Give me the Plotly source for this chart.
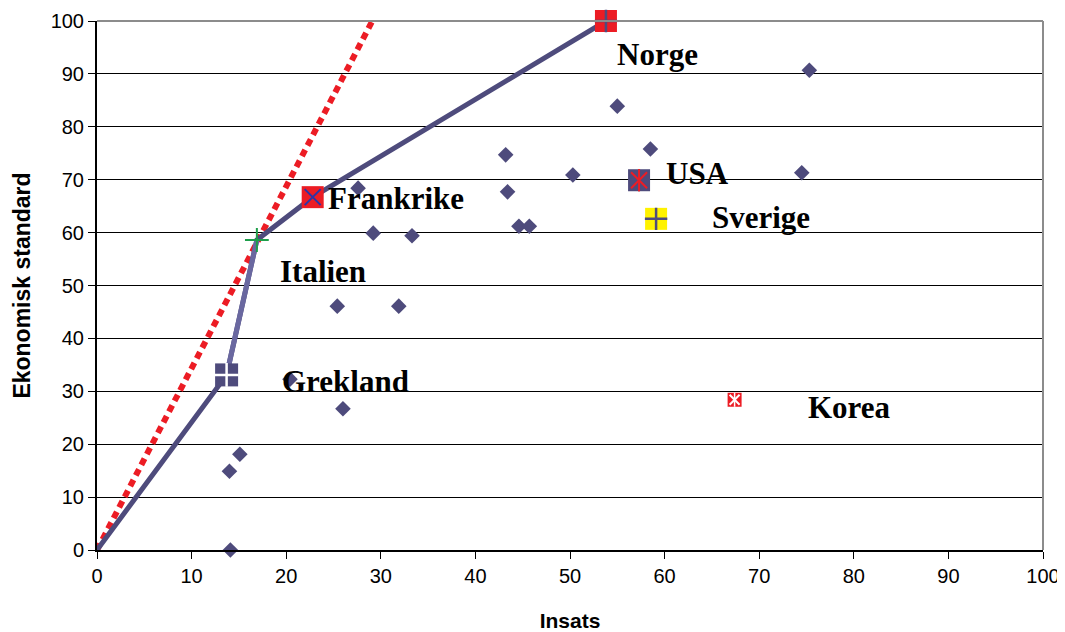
import plotly.graph_objects as go

# ---- data ----
insats = [14.1, 14.0, 15.1, 20.4, 26.0, 25.4, 31.9, 29.2, 33.3, 27.6,
          43.2, 43.4, 44.6, 45.7, 50.3, 55.0, 58.5, 74.5, 75.3]
standard = [0.0, 14.9, 18.1, 32.3, 26.7, 46.1, 46.1, 59.9, 59.4, 68.4,
            74.7, 67.7, 61.2, 61.2, 70.9, 83.9, 75.8, 71.3, 90.7]

countries = ["Norge", "Frankrike", "USA", "Sverige", "Italien", "Grekland", "Korea"]
country_x = [53.8, 22.8, 57.3, 59.1, 16.9, 13.7, 67.4]
country_y = [100.0, 66.7, 69.9, 62.6, 58.6, 33.1, 28.4]

frontier_x = [0, 13.7, 16.9, 22.8, 53.8]
frontier_y = [0, 33.1, 58.6, 66.7, 100.0]

ray_x = [0, 29.1]
ray_y = [0, 100]

x_ticks = list(range(0, 101, 10))
y_ticks = list(range(0, 101, 10))

# label offsets (in axis units) relative to each country's marker
label_dx = {"Norge": 1.0, "Frankrike": 1.4, "USA": 2.6, "Sverige": 5.7,
            "Italien": 2.2, "Grekland": 5.6, "Korea": 7.5}
label_dy = {"Norge": -6.4, "Frankrike": -0.2, "USA": 1.2, "Sverige": 0.2,
            "Italien": -5.9, "Grekland": -1.2, "Korea": -1.4}

# marker styles per country: list of (symbol, size, fill, line colour, line width)
DARK = "#4E4B7C"
RED = "#EC1C24"
styles = {
    "Norge":     [("square", 22, RED, RED, 0), ("cross-thin", 16, DARK, DARK, 2.5)],
    "Frankrike": [("square", 22, RED, RED, 0), ("x-thin", 16, "#2B35A8", "#2B35A8", 2)],
    "USA":       [("square", 22, DARK, DARK, 0), ("x-thin", 16, RED, RED, 2), ("line-ns", 16, RED, RED, 2)],
    "Sverige":   [("square", 22, "#FFF200", "#FFF200", 0), ("cross-thin", 16, DARK, DARK, 2.5)],
    "Italien":   [("cross-thin", 17, "#1E9E4A", "#1E9E4A", 2)],
    "Grekland":  [("square", 23, DARK, DARK, 0), ("cross-thin", 17, "white", "white", 2.5)],
    "Korea":     [("square", 14, RED, RED, 0), ("x-thin", 10, "white", "white", 2), ("line-ns", 10, "white", "white", 1.5)],
}

fig = go.Figure()

# red dotted ray
fig.add_trace(go.Scatter(x=ray_x, y=ray_y, mode="lines",
                         line=dict(color=RED, width=6, dash="7px,5px"),
                         cliponaxis=False, hoverinfo="skip"))
# frontier line
fig.add_trace(go.Scatter(x=frontier_x, y=frontier_y, mode="lines",
                         line=dict(color=DARK, width=5),
                         cliponaxis=False, hoverinfo="skip"))
# lighter segment Grekland -> Italien
fig.add_trace(go.Scatter(x=frontier_x[1:3], y=frontier_y[1:3], mode="lines",
                         line=dict(color="#6A68A0", width=5),
                         cliponaxis=False, hoverinfo="skip"))
# diamonds
fig.add_trace(go.Scatter(x=insats, y=standard, mode="markers",
                         marker=dict(symbol="diamond", size=12, color=DARK,
                                     line=dict(width=0)),
                         cliponaxis=False))

# country markers
for name, cx, cy in zip(countries, country_x, country_y):
    for sym, sz, fill, lc, lw in styles[name]:
        fig.add_trace(go.Scatter(x=[cx], y=[cy], mode="markers",
                                 marker=dict(symbol=sym, size=sz, color=fill,
                                             line=dict(color=lc, width=lw)),
                                 cliponaxis=False, hoverinfo="skip"))

# country labels
for name, cx, cy in zip(countries, country_x, country_y):
    fig.add_annotation(x=cx + label_dx[name], y=cy + label_dy[name], text=name,
                       showarrow=False, xanchor="left", yanchor="middle",
                       font=dict(family="Liberation Serif, Times New Roman, serif",
                                 size=31, color="black", weight="bold"))

# top and right border (gray)
fig.add_shape(type="line", xref="x domain", yref="y domain", x0=0, x1=1, y0=1, y1=1,
              line=dict(color="#8C8C8C", width=2))
fig.add_shape(type="line", xref="x domain", yref="y domain", x0=1, x1=1, y0=0, y1=1,
              line=dict(color="#8C8C8C", width=2))

tickfont = dict(family="Liberation Sans, Arial, sans-serif", size=20, color="black")
titlefont = dict(family="Liberation Sans, Arial, sans-serif", size=21, color="black", weight="bold")

fig.update_layout(
    width=1057, height=624,
    margin=dict(l=89, r=22, t=13, b=82),
    paper_bgcolor="white", plot_bgcolor="white",
    showlegend=False,
    xaxis=dict(range=[0, 100], tickvals=x_ticks, showgrid=False, zeroline=False,
               showline=True, linecolor="black", linewidth=2, automargin=False,
               ticks="outside", ticklen=7, tickcolor="black", tickwidth=1,
               tickfont=tickfont,
               title=dict(text="Insats", font=titlefont, standoff=28)),
    yaxis=dict(range=[0, 100], tickvals=y_ticks, showgrid=True, gridcolor="black",
               gridwidth=1, zeroline=False, automargin=False,
               showline=True, linecolor="black", linewidth=2,
               ticks="outside", ticklen=7, tickcolor="black", tickwidth=1,
               tickfont=tickfont,
               title=dict(text="Ekonomisk standard",
                          font=dict(family="Liberation Sans, Arial, sans-serif", size=23,
                                    color="black", weight="bold"),
                          standoff=14)),
)

fig.write_html("out.html")
